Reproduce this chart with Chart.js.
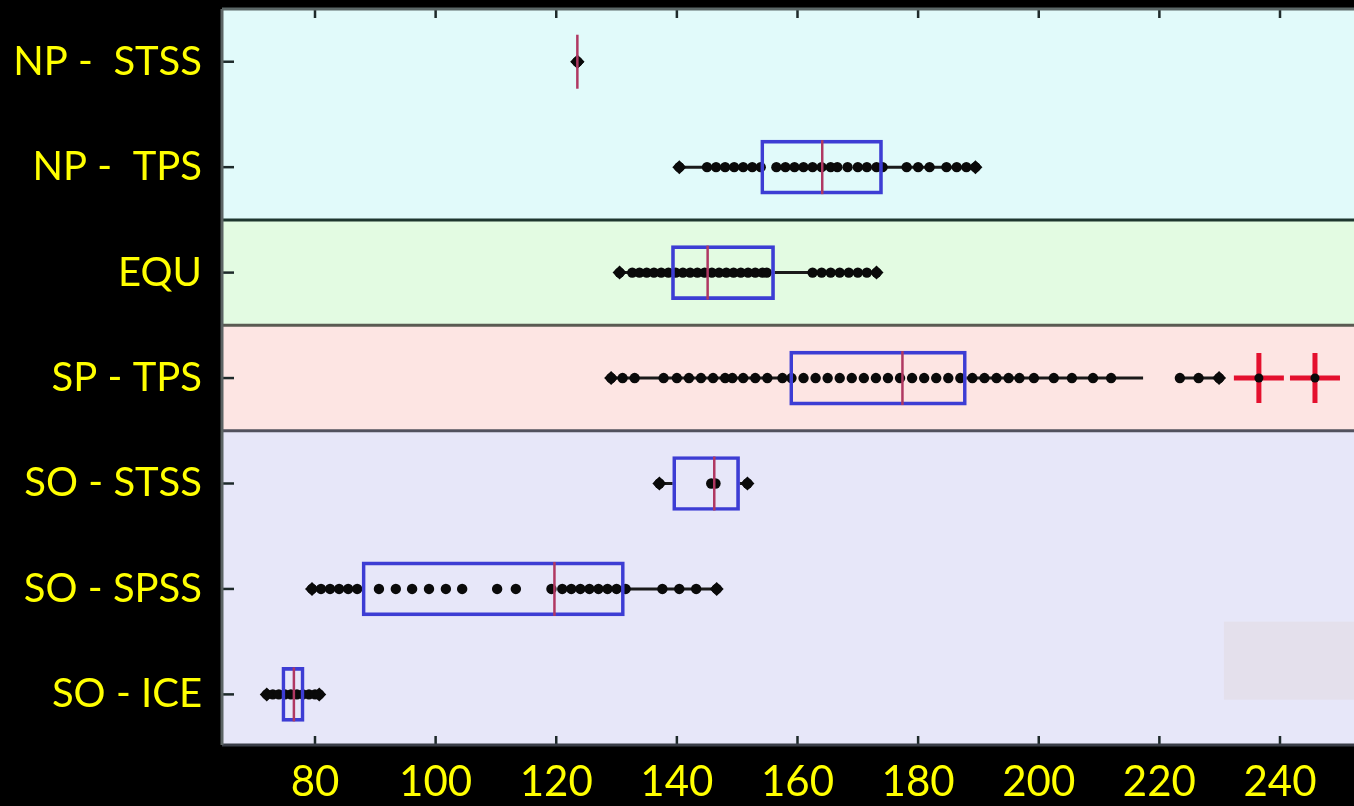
<!DOCTYPE html>
<html>
<head>
<meta charset="utf-8">
<script src="https://cdn.jsdelivr.net/npm/chart.js@4.4.1/dist/chart.umd.min.js"></script>
<style>
  html, body { margin: 0; padding: 0; background: #000; overflow: hidden; }
  canvas { display: block; }
</style>
</head>
<body>
<canvas id="chart" width="1354" height="806"></canvas>
<script>
// Sample groups, top to bottom
const categories = ['NP -  STSS', 'NP -  TPS', 'EQU', 'SP - TPS', 'SO - STSS', 'SO - SPSS', 'SO - ICE'];
const xTickValues = [80, 100, 120, 140, 160, 180, 200, 220, 240];

// Box statistics per group
const boxMin    = [123.5, 140.4, 130.5, 129.1, 137.1, 79.5, 72.0];
const boxQ1     = [123.5, 153.9, 139.1, 158.7, 139.3, 87.8, 74.5];
const boxMedian = [123.5, 164.1, 145.1, 177.4, 146.2, 119.7, 76.5];
const boxQ3     = [123.5, 174.1, 156.2, 188.0, 150.4, 131.3, 78.2];
const boxMax    = [123.5, 189.5, 173.1, 229.9, 151.7, 146.6, 80.7];

// Break in the SP - TPS upper whisker
const spTpsWhiskerGap = [217.3, 223.4];

// Individual observations
const npStssPoints = [123.5];
const npTpsPoints = [140.4, 145.0, 146.5, 148.0, 149.5, 151.0, 152.5, 153.9, 156.5, 158.0, 159.5, 161.0,
  162.5, 164.0, 165.5, 166.6, 168.3, 170.0, 171.5, 173.1, 174.1, 178.1, 180.0, 181.9, 184.7, 186.4, 188.0, 189.5];
const equPoints = [130.5, 132.6, 133.8, 135.0, 136.2, 137.4, 138.6, 139.8, 141.0, 142.2, 143.4, 144.6, 145.8,
  147.0, 148.2, 149.4, 150.6, 151.8, 153.0, 154.2, 154.9, 162.5, 164.0, 165.5, 167.0, 168.5, 170.0, 171.5, 173.1];
const spTpsPoints = [129.1, 131.0, 133.0, 137.8, 140.0, 142.0, 144.0, 146.0, 148.0, 149.2, 151.0, 153.0, 155.0,
  157.5, 159.0, 161.0, 163.0, 165.0, 167.0, 169.0, 171.0, 173.0, 175.0, 177.0, 179.0, 181.0, 183.0, 185.0,
  187.0, 189.0, 191.0, 193.0, 195.0, 196.8, 199.2, 202.5, 205.5, 209.0, 212.0, 223.4, 226.5, 229.9];
const soStssPoints = [137.1, 145.7, 146.4, 151.7];
const soSpssPoints = [79.5, 81.0, 82.5, 84.0, 85.5, 87.0, 90.6, 93.4, 96.1, 98.9, 101.7, 104.4, 110.2, 113.3,
  119.2, 121.0, 122.5, 124.0, 125.5, 127.0, 128.5, 130.0, 131.5, 137.6, 140.4, 143.2, 146.6];
const soIcePoints = [72.0, 73.0, 74.0, 75.0, 76.0, 77.0, 78.0, 79.0, 80.0, 80.7];
const pointsByRow = [npStssPoints, npTpsPoints, equPoints, spTpsPoints, soStssPoints, soSpssPoints, soIcePoints];

// Outliers (SP - TPS)
const spTpsOutliers = [236.5, 245.8];

// Regions shading groups of rows
const regionRows = [[0, 1], [2], [3], [4, 5, 6]];
const regionFill = ['#e1fafa', '#e3fbe2', '#fde5e3', '#e7e7f9'];
const regionLine = ['#1e362e', '#5a5a52', '#52525e'];

// Grey patch in the lower right corner
const patchX = [230.7, 260];
const patchY = [5.31, 6.05];

const YELLOW = '#ffff00';
const BOX_BLUE = '#3d3dd4';
const MEDIAN_RED = '#b03862';
const DOT = '#0a0a0a';

const datasets = [];

// Whisker segments: min→Q1 and Q3→max
categories.forEach((_, i) => {
  const segs = [[boxMin[i], boxQ1[i]]];
  if (i === 3) {
    segs.push([boxQ3[i], spTpsWhiskerGap[0]], [spTpsWhiskerGap[1], boxMax[i]]);
  } else {
    segs.push([boxQ3[i], boxMax[i]]);
  }
  segs.forEach(([a, b]) => {
    if (a === b) return;
    datasets.push({
      type: 'scatter', showLine: true, order: 6,
      data: [{ x: a, y: i }, { x: b, y: i }],
      borderColor: '#1a1a1a', borderWidth: 3, pointRadius: 0
    });
  });
});

// Observations
datasets.push({
  type: 'scatter', order: 5,
  data: pointsByRow.flatMap((arr, i) => arr.map(v => ({ x: v, y: i }))),
  pointRadius: 5.2, pointBackgroundColor: DOT, pointBorderWidth: 0
});

// Whisker end markers
datasets.push({
  type: 'scatter', order: 4,
  data: categories.flatMap((_, i) => [{ x: boxMin[i], y: i }, { x: boxMax[i], y: i }]),
  pointStyle: 'rectRot', pointRadius: 7, pointBackgroundColor: DOT, pointBorderWidth: 0
});

// Boxes (Q1–Q3)
datasets.push({
  type: 'bar', indexAxis: 'y', order: 3, grouped: false,
  data: categories.map((_, i) => ({ y: i, x: [boxQ1[i], boxQ3[i]] })),
  backgroundColor: 'rgba(0,0,0,0)', borderColor: BOX_BLUE, borderWidth: 3,
  borderSkipped: false, barThickness: 54
});

// Medians
datasets.push({
  type: 'scatter', order: 2,
  data: categories.map((_, i) => ({ x: boxMedian[i], y: i })),
  pointStyle: 'line', pointRotation: 90, pointRadius: 27,
  pointBorderColor: MEDIAN_RED, pointBorderWidth: 2.5
});

// Outliers: red crosses with dark centres
datasets.push({
  type: 'scatter', order: 1,
  data: spTpsOutliers.map(v => ({ x: v, y: 3 })),
  pointStyle: 'cross', pointRadius: 25, pointBorderColor: '#e4102e', pointBorderWidth: 5
});
datasets.push({
  type: 'scatter', order: 0,
  data: spTpsOutliers.map(v => ({ x: v, y: 3 })),
  pointRadius: 4.5, pointBackgroundColor: DOT, pointBorderWidth: 0
});

const backdrop = {
  id: 'backdrop',
  beforeDraw(chart) {
    const { ctx, width, height } = chart;
    ctx.save();
    ctx.fillStyle = '#000';
    ctx.fillRect(0, 0, width, height);
    ctx.restore();
  },
  beforeDatasetsDraw(chart) {
    const { ctx, chartArea: a, scales: { x, y } } = chart;
    ctx.save();
    const edges = [];
    regionRows.forEach((rows, k) => {
      const top = k === 0 ? a.top : y.getPixelForValue(rows[0] - 0.5);
      const bottom = k === regionRows.length - 1 ? a.bottom : y.getPixelForValue(rows[rows.length - 1] + 0.5);
      ctx.fillStyle = regionFill[k];
      ctx.fillRect(a.left, top, a.right - a.left, bottom - top);
      if (k < regionRows.length - 1) edges.push(bottom);
    });
    // grey patch
    ctx.fillStyle = '#e4e0ec';
    const px0 = x.getPixelForValue(patchX[0]), px1 = Math.min(a.right, x.getPixelForValue(patchX[1]));
    const py0 = y.getPixelForValue(patchY[0]), py1 = y.getPixelForValue(patchY[1]);
    ctx.fillRect(px0, py0, px1 - px0, py1 - py0);
    // region separators
    edges.forEach((e, k) => {
      ctx.strokeStyle = regionLine[k];
      ctx.lineWidth = 3;
      ctx.beginPath();
      ctx.moveTo(a.left, e);
      ctx.lineTo(a.right, e);
      ctx.stroke();
    });
    ctx.restore();
  },
  afterDatasetsDraw(chart) {
    const { ctx, chartArea: a, scales: { x, y } } = chart;
    ctx.save();
    ctx.strokeStyle = '#1e2a2a';
    ctx.lineWidth = 2.5;
    x.ticks.forEach(t => {
      const px = x.getPixelForValue(t.value);
      ctx.beginPath();
      ctx.moveTo(px, a.top); ctx.lineTo(px, a.top + 9);
      ctx.moveTo(px, a.bottom); ctx.lineTo(px, a.bottom - 9);
      ctx.stroke();
    });
    y.ticks.forEach(t => {
      const py = y.getPixelForValue(t.value);
      ctx.beginPath();
      ctx.moveTo(a.left, py); ctx.lineTo(a.left + 12, py);
      ctx.stroke();
    });
    // frame: top, bottom and left edges
    ctx.strokeStyle = '#5c6868';
    ctx.lineWidth = 3;
    ctx.beginPath();
    ctx.moveTo(a.left, a.top); ctx.lineTo(a.right, a.top);
    ctx.stroke();
    ctx.strokeStyle = '#3a3e48';
    ctx.beginPath();
    ctx.moveTo(a.left, a.bottom); ctx.lineTo(a.right, a.bottom);
    ctx.stroke();
    ctx.strokeStyle = '#5c6464';
    ctx.beginPath();
    ctx.moveTo(a.left, a.top); ctx.lineTo(a.left, a.bottom);
    ctx.stroke();
    ctx.restore();
  }
};

// keep tick labels from pushing the plot area inward
const noOverflow = s => { s.paddingTop = 0; s.paddingBottom = 0; s.paddingLeft = 0; s.paddingRight = 0; };

new Chart(document.getElementById('chart'), {
  type: 'scatter',
  data: { datasets },
  options: {
    responsive: false,
    animation: false,
    devicePixelRatio: 1,
    layout: { autoPadding: false, padding: { top: 9, right: 0, left: 0, bottom: 0 } },
    plugins: { legend: { display: false }, tooltip: { enabled: false } },
    scales: {
      x: {
        type: 'linear', min: 64.58, max: 252.27, offset: false,
        afterBuildTicks: s => { s.ticks = xTickValues.map(v => ({ value: v })); },
        afterFit: s => { s.height = 61; noOverflow(s); },
        grid: { display: false, drawTicks: false },
        border: { display: false },
        ticks: { color: YELLOW, font: { family: 'Lato', size: 42 }, padding: 12, maxRotation: 0, autoSkip: false }
      },
      y: {
        type: 'linear', min: -0.5, max: 6.48, reverse: true, offset: false,
        afterBuildTicks: s => { s.ticks = categories.map((_, i) => ({ value: i })); },
        afterFit: s => { s.width = 222; noOverflow(s); },
        grid: { display: false, drawTicks: false, offset: false },
        border: { display: false },
        ticks: {
          color: YELLOW, font: { family: 'Lato', size: 40 }, padding: 20, autoSkip: false,
          callback: v => categories[v]
        }
      }
    }
  },
  plugins: [backdrop]
});
</script>
</body>
</html>
